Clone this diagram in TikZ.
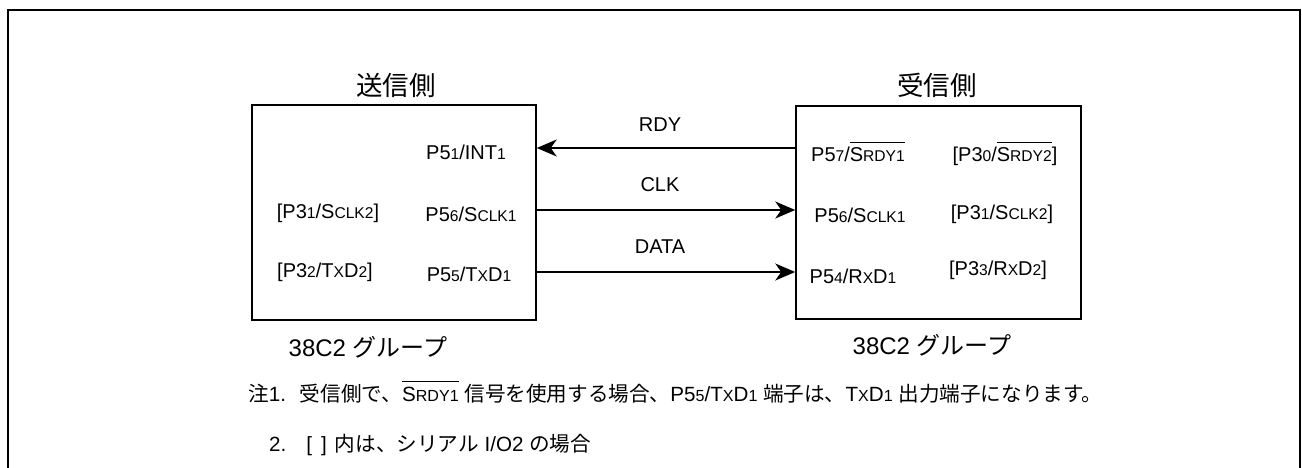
\documentclass[tikz,border=0pt]{standalone}
\usepackage{fontspec}
\setmainfont{Liberation Sans}
\newfontfamily\jp{Noto Sans CJK JP}
\usetikzlibrary{arrows.meta}
\makeatletter
\newlength\smlen
\newcommand\sm[1]{{\smlen=\f@size pt\smlen=0.78\smlen\fontsize{\smlen}{\smlen}\selectfont #1}}
\makeatother
\newcommand\ovl[1]{\setbox0\hbox{#1}\rlap{\rule[\dimexpr\ht0+4.5pt\relax]{\wd0}{1.4pt}}\box0\relax}
\begin{document}
\begin{tikzpicture}[x=1pt,y=-1pt,
  pin/.style={font=\fontsize{20}{22}\selectfont, inner sep=0pt},
  sig/.style={font=\fontsize{20}{22}\selectfont, inner sep=0pt},
  title/.style={font=\jp\fontsize{26.5}{28}\selectfont, inner sep=0pt},
  grp/.style={font=\fontsize{24}{26}\selectfont, inner sep=0pt},
  note/.style={font=\fontsize{20.6}{22}\selectfont, inner sep=0pt, anchor=west},
  chip/.style={draw, line width=1.5pt},
  conn/.style={line width=1.3pt, -{Stealth[length=20pt,width=17pt,inset=6pt]}}]
\useasboundingbox (0,0) rectangle (1302,468);
\draw[line width=2pt] (8,475) -- (8,10) -- (1300,10) -- (1300,475);
% chips
\node[chip, minimum width=284pt, minimum height=215pt, inner sep=0pt] (L) at (394,212.5) {};
\node[chip, minimum width=285pt, minimum height=213pt, inner sep=0pt] (R) at (938.5,212.5) {};
\node[title] (tL) at (396,85) {送信側};
\node[title] (tR) at (937,85) {受信側};
% connectors
\coordinate (yr) at (0,148);
\coordinate (yc) at (0,210);
\coordinate (yd) at (0,272);
\draw[conn] (R.west |- yr) -- (L.east |- yr);
\draw[conn] (L.east |- yc) -- (R.west |- yc);
\draw[conn] (L.east |- yd) -- (R.west |- yd);
\node[sig] (rdy) at (660,125) {RDY};
\node[sig] (clk) at (660,185) {CLK};
\node[sig] (dat) at (660,247) {DATA};
% left chip pins
\node[pin] (l1) at (466,152) {P5\sm{1}/INT\sm{1}};
\node[pin] (l2) at (471,214) {P5\sm{6}/S\sm{CLK1}};
\node[pin] (l3) at (469,274) {P5\sm{5}/T\sm{X}D\sm{1}};
\node[pin] (l4) at (328,213) {[P3\sm{1}/S\sm{CLK2}]};
\node[pin] (l5) at (325,272) {[P3\sm{2}/T\sm{X}D\sm{2}]};
% right chip pins
\node[pin] (r1) at (858,152) {P5\sm{7}/\ovl{S\sm{RDY1}}};
\node[pin] (r2) at (1005,154) {[P3\sm{0}/\ovl{S\sm{RDY2}}]};
\node[pin] (r3) at (860,215) {P5\sm{6}/S\sm{CLK1}};
\node[pin] (r4) at (1002,214) {[P3\sm{1}/S\sm{CLK2}]};
\node[pin] (r5) at (853,276) {P5\sm{4}/R\sm{X}D\sm{1}};
\node[pin] (r6) at (998,270) {[P3\sm{3}/R\sm{X}D\sm{2}]};
% group labels
\node[grp] (gL) at (368,347) {38C2 {\jp グループ}};
\node[grp] (gR) at (932,345) {38C2 {\jp グループ}};
% notes
\node[note] (n1) at (248,392) {{\jp 注}1.\hspace{14pt}{\jp 受信側で、}\ovl{S\sm{RDY1}} {\jp 信号を使用する場合、}P5\sm{5}/T\sm{X}D\sm{1} {\jp 端子は、}T\sm{X}D\sm{1} {\jp 出力端子になります。}};
\node[note] (n2) at (269,445) {2.\hspace{20pt}[\hspace{9pt}]\hspace{8pt}{\jp 内は、シリアル} I/O2 {\jp の場合}};
\end{tikzpicture}
\end{document}
